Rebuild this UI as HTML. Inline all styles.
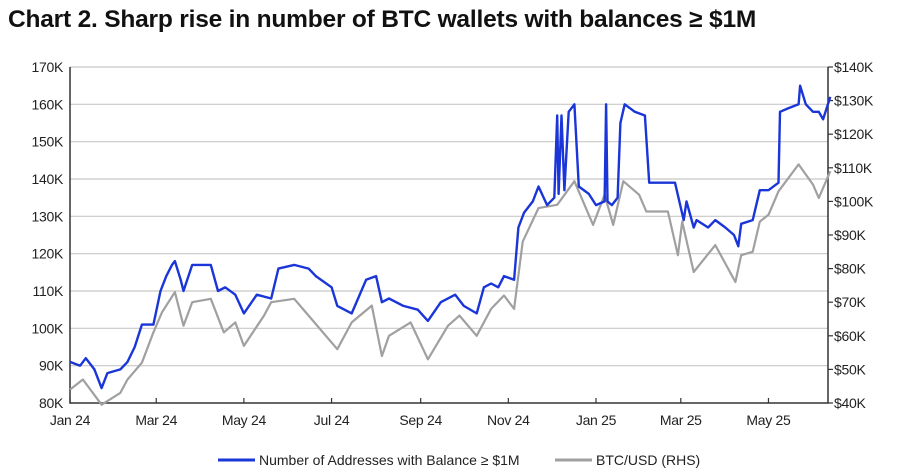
<!DOCTYPE html>
<html><head><meta charset="utf-8">
<style>
body{margin:0;background:#fff;width:900px;height:476px;overflow:hidden;font-family:"Liberation Sans",sans-serif;}
#title{position:absolute;left:8px;top:6px;font-size:24.5px;font-weight:bold;color:#111;letter-spacing:-0.2px;white-space:nowrap;}
svg{position:absolute;left:0;top:0;}
text{font-family:"Liberation Sans",sans-serif;font-size:14px;fill:#222;letter-spacing:-0.3px;}
</style></head><body>
<div id="title">Chart 2. Sharp rise in number of BTC wallets with balances ≥ $1M</div>
<svg id="chart" width="900" height="476"></svg>
<script>
const leftTicks=[80,90,100,110,120,130,140,150,160,170];
const rightTicks=[40,50,60,70,80,90,100,110,120,130,140];
const xTickLabels=["Jan 24","Mar 24","May 24","Jul 24","Sep 24","Nov 24","Jan 25","Mar 25","May 25"];
const xTickDates=["2024-01-01","2024-03-01","2024-05-01","2024-07-01","2024-09-01","2024-11-01","2025-01-01","2025-03-01","2025-05-01"];
const addrDates=["2024-01-01","2024-01-08","2024-01-12","2024-01-18","2024-01-23","2024-01-27","2024-02-05","2024-02-10","2024-02-15","2024-02-20","2024-02-28","2024-03-04","2024-03-08","2024-03-12","2024-03-14","2024-03-18","2024-03-20","2024-03-26","2024-04-01","2024-04-08","2024-04-13","2024-04-18","2024-04-25","2024-05-01","2024-05-10","2024-05-20","2024-05-25","2024-06-05","2024-06-15","2024-06-20","2024-07-01","2024-07-05","2024-07-15","2024-07-25","2024-08-01","2024-08-05","2024-08-10","2024-08-20","2024-08-30","2024-09-06","2024-09-15","2024-09-25","2024-10-01","2024-10-10","2024-10-15","2024-10-20","2024-10-25","2024-10-29","2024-11-05","2024-11-08","2024-11-12","2024-11-18","2024-11-22","2024-11-28","2024-12-03","2024-12-05","2024-12-06","2024-12-08","2024-12-10","2024-12-13","2024-12-17","2024-12-20","2024-12-27","2025-01-01","2025-01-07","2025-01-08","2025-01-09","2025-01-12","2025-01-16","2025-01-18","2025-01-21","2025-01-28","2025-02-04","2025-02-07","2025-02-15","2025-02-25","2025-03-03","2025-03-05","2025-03-10","2025-03-12","2025-03-20","2025-03-25","2025-04-01","2025-04-07","2025-04-10","2025-04-12","2025-04-20","2025-04-25","2025-05-01","2025-05-08","2025-05-09","2025-05-15","2025-05-22","2025-05-23","2025-05-27","2025-06-01","2025-06-05","2025-06-08","2025-06-13"];
const addrValues=[91,90,92,89,84,88,89,91,95,101,101,110,114,117,118,113,110,117,117,117,110,111,109,104,109,108,116,117,116,114,111,106,104,113,114,107,108,106,105,102,107,109,106,104,111,112,111,114,113,127,131,134,138,133,135,157,136,157,137,158,160,138,136,133,134,160,134,133,135,155,160,158,157,139,139,139,129,134,127,129,127,129,127,125,122,128,129,137,137,139,158,159,160,165,160,158,158,156,162];
const btcDates=["2024-01-01","2024-01-10","2024-01-23","2024-02-05","2024-02-10","2024-02-20","2024-02-28","2024-03-05","2024-03-14","2024-03-20","2024-03-26","2024-04-08","2024-04-17","2024-04-25","2024-05-01","2024-05-15","2024-05-20","2024-06-05","2024-06-15","2024-07-05","2024-07-15","2024-07-29","2024-08-05","2024-08-10","2024-08-25","2024-09-06","2024-09-20","2024-09-28","2024-10-10","2024-10-20","2024-10-29","2024-11-05","2024-11-11","2024-11-22","2024-12-05","2024-12-17","2024-12-30","2025-01-07","2025-01-13","2025-01-20","2025-01-31","2025-02-05","2025-02-20","2025-02-27","2025-03-02","2025-03-10","2025-03-25","2025-04-08","2025-04-12","2025-04-20","2025-04-25","2025-05-01","2025-05-08","2025-05-22","2025-06-01","2025-06-05","2025-06-13"];
const btcValues=[44,47,39.5,43,47,52,61,67,73,63,70,71,61,64,57,66,70,71,66,56,64,69,54,60,64,53,63,66,60,68,72,68,88,98,99,106,93,102,93,106,102,97,97,84,94,79,87,76,84,85,94,96,103,111,105,101,109];

const svg=document.getElementById('chart');
const NS='http://www.w3.org/2000/svg';
const X0=70,X1=828,YT=67,YB=403;
const d0=Date.UTC(2024,0,1);
function day(s){const p=s.split('-');return (Date.UTC(+p[0],+p[1]-1,+p[2])-d0)/864e5;}
const pxPerDay=(596-70)/366;
function xs(s){return X0+day(s)*pxPerDay;}
function yl(v){return YB-(v-80)/90*(YB-YT);}
function yr(v){return YB-(v-40)/100*(YB-YT);}
function mk(tag,attrs,txt){const e=document.createElementNS(NS,tag);for(const k in attrs)e.setAttribute(k,attrs[k]);if(txt!==undefined)e.textContent=txt;svg.appendChild(e);return e;}

leftTicks.forEach(v=>{
  const y=yl(v);
  if(v>80){const g=mk('line',{x1:X0,x2:X1,y1:y,y2:y,stroke:'#c8c8c8','stroke-width':1.2});
  
  }
  const t=mk('text',{x:X0-7,y:y+5,'text-anchor':'end'},v+'K');
  
  
});
rightTicks.forEach(v=>{
  const y=yr(v);
  mk('line',{x1:X1,x2:X1+5,y1:y,y2:y,stroke:'#333','stroke-width':1.2});
  const t=mk('text',{x:X1+6,y:y+5,'text-anchor':'start'},'$'+v+'K');
  
  
});
xTickDates.forEach((d,i)=>{
  const x=xs(d);
  mk('line',{x1:x,x2:x,y1:YB,y2:YB-5,stroke:'#333','stroke-width':1.2});
  const t=mk('text',{x:x,y:YB+22,'text-anchor':'middle'},xTickLabels[i]);
  
  
});
const ax=mk('path',{d:`M${X0},${YT}V${YB}H${X1}V${YT}`,fill:'none',stroke:'#333','stroke-width':1.5});



const gp=mk('path',{d:btcDates.map((d,i)=>(i?'L':'M')+xs(d).toFixed(1)+','+yr(btcValues[i]).toFixed(1)).join(''),fill:'none',stroke:'#a0a0a0','stroke-width':2.2,'stroke-linejoin':'round'});


const bp=mk('path',{d:addrDates.map((d,i)=>(i?'L':'M')+xs(d).toFixed(1)+','+yl(addrValues[i]).toFixed(1)).join(''),fill:'none',stroke:'#1a35d8','stroke-width':2.4,'stroke-linejoin':'round'});



const l1=mk('line',{x1:218,x2:255,y1:460,y2:460,stroke:'#1a35d8','stroke-width':3});


const t1=mk('text',{x:259,y:465,style:'font-size:14px;letter-spacing:0'},'Number of Addresses with Balance ≥ $1M');


const l2=mk('line',{x1:555,x2:592,y1:460,y2:460,stroke:'#a0a0a0','stroke-width':3});


const t2=mk('text',{x:596,y:465,style:'font-size:14px;letter-spacing:0'},'BTC/USD (RHS)');


</script>
</body></html>
